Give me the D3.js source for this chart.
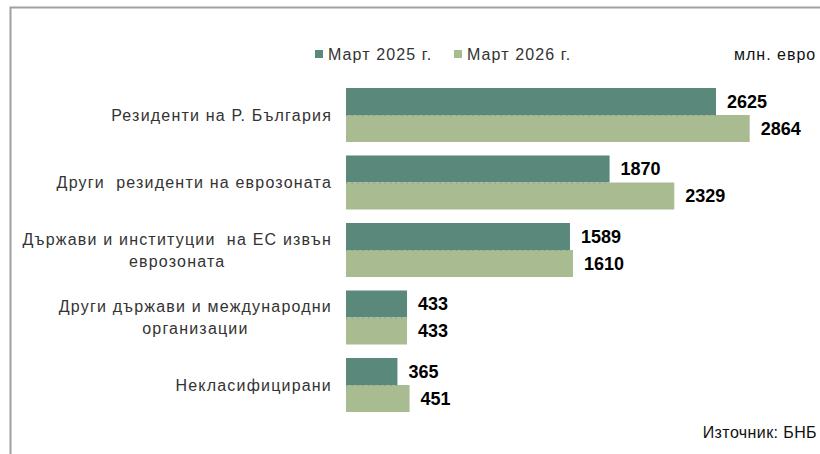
<!DOCTYPE html>
<html><head><meta charset="utf-8">
<script src="https://cdn.jsdelivr.net/npm/d3@7"></script>
<style>body{margin:0;background:#fff}svg{display:block}text{font-family:"Liberation Sans",Arial,sans-serif}</style>
</head><body><div id="chart"></div>
<script>
const categories = [
  ["Резиденти на Р. България"],
  ["Други  резиденти на еврозоната"],
  ["Държави и институции  на ЕС извън", "еврозоната"],
  ["Други държави и международни", "организации"],
  ["Некласифицирани"]
];
const seriesNames = ["Март 2025 г.", "Март 2026 г."];
const values2025 = [2625, 1870, 1589, 433, 365];
const values2026 = [2864, 2329, 1610, 433, 451];
const colors = ["#5a887a", "#a9bb91"];
const unitLabel = "млн. евро";
const sourceLabel = "Източник: БНБ";

const W = 820, H = 454;
const svg = d3.select("#chart").append("svg").attr("width", W).attr("height", H);

// frame
svg.append("path").attr("d", `M10.5,${H} V7.5 H${W}`).attr("fill","none").attr("stroke","#a0a0a0").attr("stroke-width",2);

const x = d3.scaleLinear().domain([0, 2625]).range([346, 716]);
const idx = d3.range(categories.length);
const y = d3.scaleBand().domain(idx).range([81.25, 418.75]).paddingInner(0.2).paddingOuter(0.1);
const ySub = d3.scaleBand().domain([0,1]).range([0, y.bandwidth()]);

const series = [values2025, values2026];
series.forEach((vals, s) => {
  const g = svg.append("g");
  g.selectAll("rect").data(vals).join("rect")
    .attr("x", x(0)).attr("y", (d,i) => y(i) + ySub(s))
    .attr("width", d => x(d) - x(0)).attr("height", ySub.bandwidth())
    .attr("fill", colors[s]);
  if (s === 1) {
    g.selectAll("line").data(vals).join("line")
      .attr("x1", x(0)).attr("x2", (d,i) => x(Math.min(d, values2025[i])))
      .attr("y1", (d,i) => y(i) + ySub(s) + 0.5).attr("y2", (d,i) => y(i) + ySub(s) + 0.5)
      .attr("stroke", "#7f9f86").attr("stroke-dasharray", "1.5,4").attr("stroke-width", 1);
  }
  g.selectAll("text").data(vals).join("text")
    .attr("x", d => x(d) + 11).attr("y", (d,i) => y(i) + ySub(s) + ySub.bandwidth()/2)
    .attr("dy", "0.36em").attr("font-size", 18).attr("font-weight", "bold").attr("fill", "#000")
    .text(d => d);
});

// category labels
const labelRight = 332;
categories.forEach((lines, i) => {
  const g = svg.append("g");
  const cy = y(i) + y.bandwidth()/2;
  const lh = 22;
  const ts = lines.map((l, k) => g.append("text")
    .attr("y", cy + (k - (lines.length-1)/2) * lh).attr("dy","0.36em")
    .attr("font-size", 16).attr("letter-spacing", 1.2).attr("fill", "#333").attr("xml:space","preserve").text(l));
  const maxW = d3.max(ts, t => t.node().getComputedTextLength());
  ts.forEach(t => t.attr("x", labelRight - maxW/2).attr("text-anchor","middle"));
});

// legend
const legX = [315, 454];
seriesNames.forEach((n, s) => {
  svg.append("rect").attr("x", legX[s]).attr("y", 50).attr("width", 8).attr("height", 8).attr("fill", colors[s]);
  svg.append("text").attr("x", legX[s] + 13).attr("y", 54).attr("dy","0.36em")
    .attr("font-size", 16).attr("letter-spacing", 1.1).attr("fill", "#333").text(n);
});
svg.append("text").attr("x", 734).attr("y", 54).attr("dy","0.36em").attr("font-size", 16).attr("letter-spacing", 1.0).attr("fill","#111").text(unitLabel);
svg.append("text").attr("x", 817).attr("y", 432).attr("dy","0.36em").attr("text-anchor","end").attr("font-size", 16).attr("letter-spacing", 0.4).attr("fill","#111").text(sourceLabel);
</script></body></html>
